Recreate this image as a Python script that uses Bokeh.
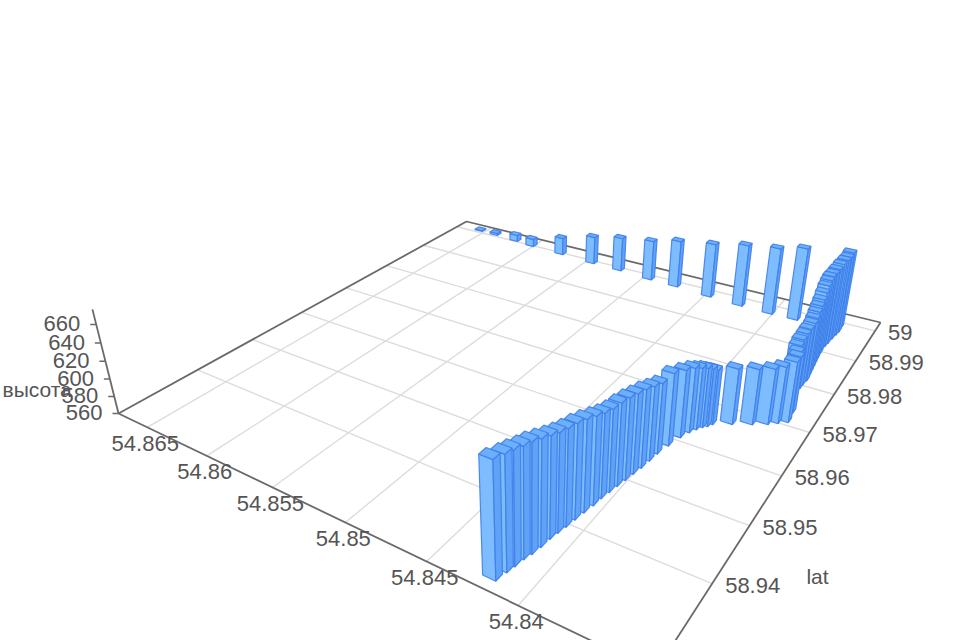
import numpy as np
from bokeh.plotting import figure
from bokeh.models import Range1d, ColumnDataSource
from bokeh.embed import file_html
from bokeh.resources import INLINE
from bokeh.core.properties import value

# ---- data ----
lon = [54.84199,54.84186,54.84177,54.84167,54.84154,54.84144,54.84138,54.84128,54.84117,54.84107,54.84096,54.84084,54.84077,54.84066,54.84055,54.84043,54.84032,54.84020,54.84011,54.84003,54.83984,54.83961,
       54.83939,54.83918,54.83898,54.83878,54.83862,54.83770,54.83675,54.83603,54.83559,54.83515,54.83525,54.83551,54.83572,54.83579,54.83574,54.83573,54.83568,54.83573,54.83578,54.83583,54.83588,54.83593,
       54.83598,54.83599,54.83604,54.83600,54.83596,54.83591,54.83585,54.83581,54.83585,54.83861,54.84034,54.84251,54.84488,54.84755,54.84967,54.85228,54.85462,54.85751,54.86029,54.86194,54.86402,54.86557]
lat = [58.92948,58.93100,58.93214,58.93348,58.93454,58.93593,58.93747,58.93873,58.94000,58.94149,58.94301,58.94457,58.94609,58.94749,58.94892,58.95037,58.95185,58.95335,58.95506,58.95680,58.95896,58.96124,
       58.96279,58.96384,58.96463,58.96516,58.96589,58.96720,58.96844,58.96950,58.97037,58.97124,58.97353,58.97554,58.97692,58.97846,58.97962,58.98073,58.98192,58.98307,58.98422,58.98540,58.98659,58.98780,
       58.98902,58.98999,58.99125,58.99232,58.99340,58.99486,58.99635,58.99747,58.99900,58.99782,58.99772,58.99785,58.99823,58.99879,58.99895,58.99947,58.99956,59.00001,59.00030,59.00069,59.00109,59.00120]
alt = [674.1,672.1,670.8,668.6,668.1,665.1,661.1,658.8,657.4,656.1,653.8,650.5,647.1,645.6,646.1,645.6,644.0,642.5,638.9,635.4,638.0,633.4,
       630.6,627.6,625.6,623.5,620.4,621.4,621.3,621.4,622.5,626.8,623.2,619.4,619.9,620.3,622.8,624.2,626.8,628.3,630.9,633.5,636.2,640.1,
       643.9,646.6,647.0,647.4,648.9,650.5,651.0,651.4,651.9,649.2,642.7,637.6,628.6,620.6,612.0,604.6,596.9,583.2,570.4,569.0,563.0,561.0]
lon_ticks = [54.84,54.845,54.85,54.855,54.86,54.865]
lat_ticks = [58.94,58.95,58.96,58.97,58.98,58.99,59.0]
alt_ticks = [560,580,600,620,640,660]
lon_labels = ["54.84","54.845","54.85","54.855","54.86","54.865"]
lat_labels = ["58.94","58.95","58.96","58.97","58.98","58.99","59"]
alt_labels = ["560","580","600","620","640","660"]
lat_name = "lat"; alt_name = "высота"

# ---- axis extents and camera ----
LON0, LON1 = 54.8676, 54.8335
LAT0, LAT1 = 58.9274, 59.0030
ALT0, ALT1 = 560.0, 676.0
BAR_U, BAR_V = 0.0105, 0.0078

def homog(c00, c10, c01, c11):
    A, b = [], []
    for (u, v), (x, y) in zip([(0,0),(1,0),(0,1),(1,1)], [c00,c10,c01,c11]):
        A.append([u,v,1,0,0,0,-u*x,-v*x]); b.append(x)
        A.append([0,0,0,u,v,1,-u*y,-v*y]); b.append(y)
    s = np.linalg.solve(np.array(A,float), np.array(b,float))
    return np.array([[s[0],s[1],s[2]],[s[3],s[4],s[5]],[s[6],s[7],1.0]])
H = homog((118,413),(655,671),(466,221),(880,322))
KZ = -0.0005127
VPX, VPY = 530.0, 2060.0

def proj_uv(u, v, a):
    q = H @ np.array([u, v, 1.0])
    z = KZ*(a-ALT0)
    return (q[0]+z*VPX)/(q[2]+z), (q[1]+z*VPY)/(q[2]+z)
def to_u(x): return (x-LON0)/(LON1-LON0)
def to_v(y): return (y-LAT0)/(LAT1-LAT0)
def depth(u, v): return (H @ np.array([u, v, 1.0]))[2]

p = figure(width=960, height=640, output_backend="svg", toolbar_location=None,
           x_range=Range1d(0,960), y_range=Range1d(640,0), min_border=0)
p.axis.visible = False; p.grid.visible = False; p.outline_line_color = None
p.background_fill_color = "#ffffff"; p.border_fill_color = "#ffffff"

# floor grid
gx, gy = [], []
for t in lon_ticks:
    a = proj_uv(to_u(t),0,ALT0); b = proj_uv(to_u(t),1,ALT0)
    gx.append([a[0],b[0]]); gy.append([a[1],b[1]])
for t in lat_ticks:
    a = proj_uv(0,to_v(t),ALT0); b = proj_uv(1,to_v(t),ALT0)
    gx.append([a[0],b[0]]); gy.append([a[1],b[1]])
p.multi_line(gx, gy, line_color="#dcdcdc", line_width=1.4)

# axis lines
corners = [(0,0),(1,0),(1,1),(0,1),(0,0)]
ax = [proj_uv(u,v,ALT0) for u,v in corners]
p.line([c[0] for c in ax],[c[1] for c in ax], line_color="#6a6a6a", line_width=1.8)
za = proj_uv(0,0,ALT0); zb = proj_uv(0,0,ALT1)
p.line([za[0],zb[0]],[za[1],zb[1]], line_color="#6a6a6a", line_width=1.8)
tx, ty = [], []
for t in alt_ticks:
    c = proj_uv(0,0,t)
    tx.append([c[0]-6,c[0]]); ty.append([c[1],c[1]])
p.multi_line(tx, ty, line_color="#6a6a6a", line_width=1.5)

# bars, painted far to near
order = sorted(range(len(lon)), key=lambda i: -depth(to_u(lon[i]),to_v(lat[i])))
px, py, pc = [], [], []
for i in order:
    u, v = to_u(lon[i]), to_v(lat[i]); a = alt[i]
    um, up, vm, vp = u-BAR_U, u+BAR_U, v-BAR_V, v+BAR_V
    b1 = proj_uv(um,vm,ALT0); b2 = proj_uv(up,vm,ALT0); b3 = proj_uv(up,vp,ALT0)
    t1 = proj_uv(um,vm,a); t2 = proj_uv(up,vm,a); t3 = proj_uv(up,vp,a); t4 = proj_uv(um,vp,a)
    for poly, col in (([b1,b2,t2,t1],"#7cbcff"), ([b2,b3,t3,t2],"#5fa2f6"), ([t1,t2,t3,t4],"#6cb0fb")):
        px.append([c[0] for c in poly]); py.append([c[1] for c in poly]); pc.append(col)
p.patches(px, py, fill_color=pc, line_color="#3f80ea", line_width=1.2, line_alpha=0.9)

# labels
LABEL = dict(text_font=value("Liberation Sans"), text_font_size="22px", text_color="#555555")
s = ColumnDataSource(dict(x=[proj_uv(to_u(t),0,ALT0)[0] for t in lon_ticks],
                          y=[proj_uv(to_u(t),0,ALT0)[1] for t in lon_ticks], t=lon_labels))
p.text("x","y","t",source=s,text_align="center",text_baseline="middle",x_offset=-2,y_offset=16,**LABEL)
s = ColumnDataSource(dict(x=[proj_uv(1,to_v(t),ALT0)[0] for t in lat_ticks],
                          y=[proj_uv(1,to_v(t),ALT0)[1] for t in lat_ticks], t=lat_labels))
p.text("x","y","t",source=s,text_align="left",text_baseline="middle",x_offset=13,y_offset=2,**LABEL)
s = ColumnDataSource(dict(x=[proj_uv(0,0,t)[0] for t in alt_ticks],
                          y=[proj_uv(0,0,t)[1] for t in alt_ticks], t=alt_labels))
p.text("x","y","t",source=s,text_align="right",text_baseline="middle",x_offset=-16,y_offset=-1,**LABEL)
NAME = dict(text_font=value("Liberation Sans"), text_font_size="21px", text_color="#555555", text_baseline="middle")
p.text([2],[389],[alt_name],text_align="left",**NAME)
p.text([817],[576],[lat_name],text_align="center",**NAME)

open("out.html","w").write(file_html(p,INLINE))
